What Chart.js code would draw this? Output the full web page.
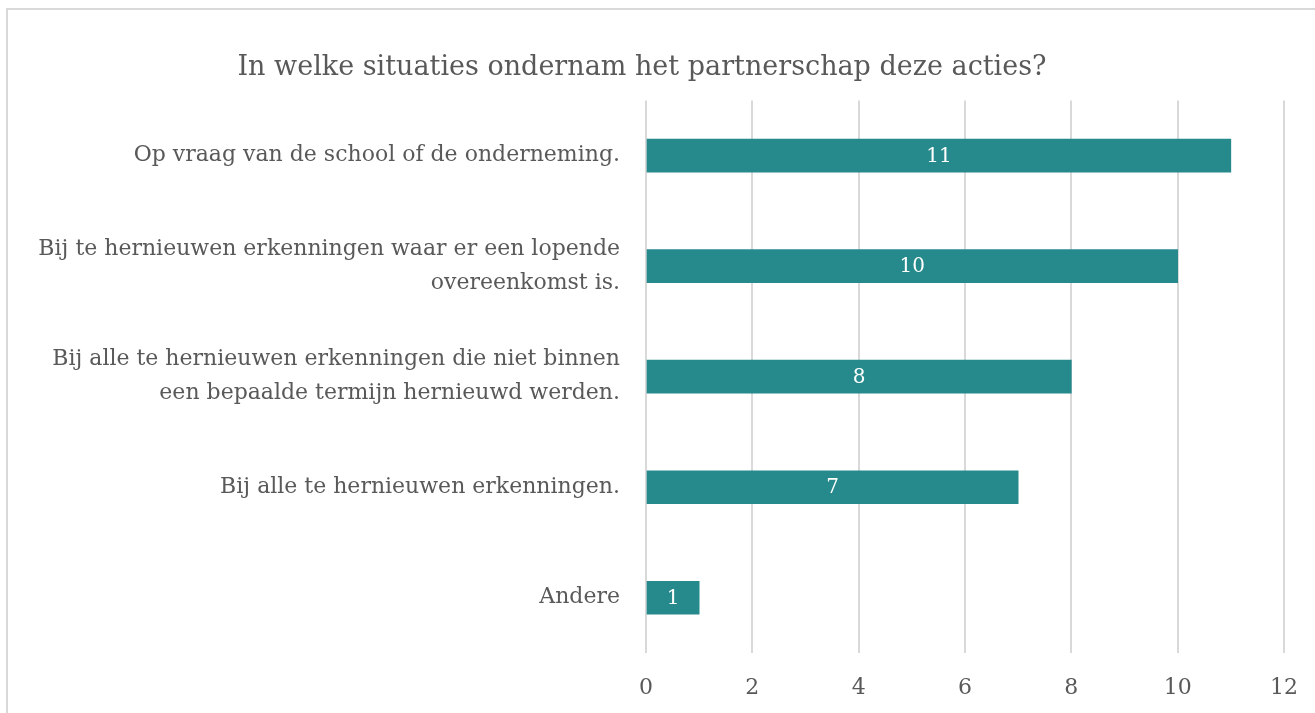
<!DOCTYPE html>
<html>
<head>
<meta charset="utf-8">
<script src="https://cdn.jsdelivr.net/npm/chart.js@4/dist/chart.umd.min.js"></script>
<style>
  html, body { margin: 0; padding: 0; background: #fff; overflow: hidden; }
  #wrap { position: relative; width: 1315px; height: 713px; overflow: hidden; }
  #frame { position: absolute; left: 6px; top: 8px; width: 1400px; height: 800px; border: 2px solid #d9d9d9; box-sizing: border-box; pointer-events: none; }
  canvas { position: absolute; left: 0; top: 0; }
</style>
</head>
<body>
<div id="wrap">
  <canvas id="c" width="1315" height="713"></canvas>
  <div id="frame"></div>
</div>
<script>
const titleText = "In welke situaties ondernam het partnerschap deze acties?";
const categories = [
  ["Op vraag van de school of de onderneming."],
  ["Bij te hernieuwen erkenningen waar er een lopende", "overeenkomst is."],
  ["Bij alle te hernieuwen erkenningen die niet binnen", "een bepaalde termijn hernieuwd werden."],
  ["Bij alle te hernieuwen erkenningen."],
  ["Andere"]
];
const values = [11, 10, 8, 7, 1];
const xTicks = [0, 2, 4, 6, 8, 10, 12];

const FONT = "'DejaVu Serif', serif";
const TXT = "#595959";

const valueLabels = {
  id: 'valueLabels',
  afterDatasetsDraw(chart) {
    const ctx = chart.ctx;
    const meta = chart.getDatasetMeta(0);
    ctx.save();
    ctx.fillStyle = '#ffffff';
    ctx.font = "20px " + FONT;
    ctx.textAlign = 'center';
    ctx.textBaseline = 'middle';
    meta.data.forEach((bar, i) => {
      const x = (bar.x + bar.base) / 2;
      ctx.fillText(String(chart.data.datasets[0].data[i]), x, bar.y + 1);
    });
    ctx.restore();
  }
};

new Chart(document.getElementById('c'), {
  type: 'bar',
  data: {
    labels: categories,
    datasets: [{
      data: values,
      backgroundColor: '#268a8c',
      borderWidth: 0,
      barThickness: 33
    }]
  },
  options: {
    indexAxis: 'y',
    responsive: false,
    animation: false,
    layout: { padding: { left: 0, right: 31, top: 0, bottom: 11 } },
    plugins: {
      legend: { display: false },
      tooltip: { enabled: false },
      title: {
        display: true,
        text: titleText,
        color: TXT,
        font: { family: FONT, size: 27, weight: 'normal', lineHeight: 1.2 },
        padding: { top: 52, bottom: 16 }
      }
    },
    scales: {
      x: {
        min: 0, max: 12,
        afterBuildTicks(scale) { scale.ticks = xTicks.map(v => ({ value: v })); },
        afterFit(scale) { scale.height = 49; scale.paddingLeft = 0; scale.paddingRight = 0; },
        grid: { color: '#d9d9d9', lineWidth: 2, drawTicks: false },
        border: { display: false },
        ticks: { color: TXT, font: { family: FONT, size: 22, lineHeight: 1.2 }, padding: 22, maxRotation: 0, minRotation: 0 }
      },
      y: {
        afterFit(scale) { scale.width = 646; scale.paddingTop = 0; scale.paddingBottom = 0; },
        grid: { display: false, drawTicks: false },
        border: { display: false },
        ticks: { color: TXT, font: { family: FONT, size: 22, lineHeight: 1.55 }, padding: 26 }
      }
    }
  },
  plugins: [valueLabels]
});
</script>
</body>
</html>
